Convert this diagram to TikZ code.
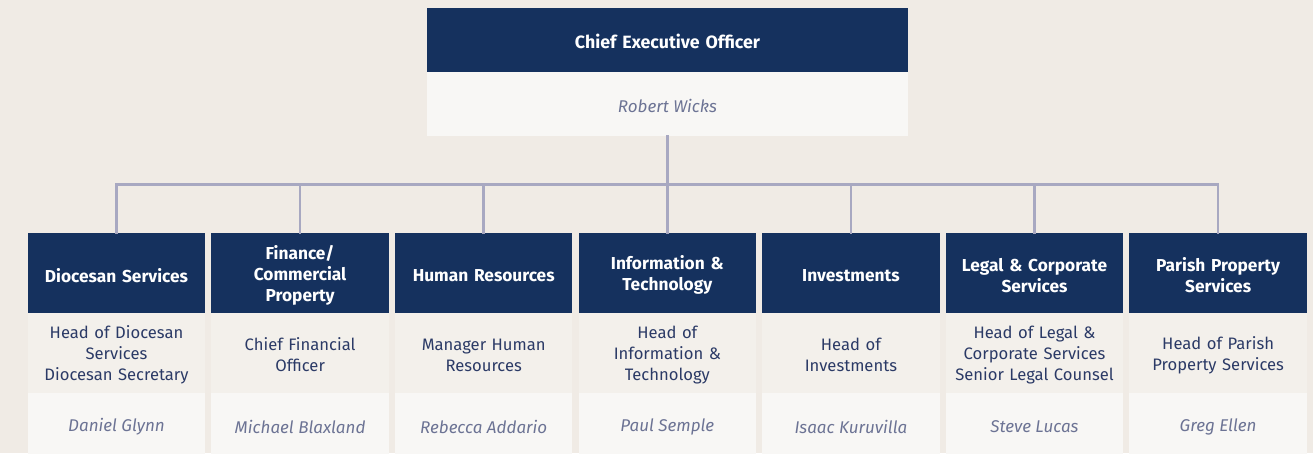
\documentclass[tikz,border=0pt]{standalone}
\usepackage{fontspec}
\setmainfont{Fira Sans}
\definecolor{bgc}{HTML}{F0EBE5}
\definecolor{navy}{HTML}{15315E}
\definecolor{midc}{HTML}{F3F0EB}
\definecolor{lightc}{HTML}{F8F7F5}
\definecolor{linec}{HTML}{A8A8C1}
\definecolor{rolec}{HTML}{2B3A66}
\definecolor{namec}{HTML}{6C7394}
\tikzset{
  hdr/.style={fill=navy, draw=none, minimum width=177.5pt, minimum height=80pt, inner sep=0pt},
  hdrtext/.style={inner sep=0pt, text width=175pt, align=center, text=white, font=\fontsize{17.3}{21}\selectfont\bfseries},
  rolebox/.style={fill=midc, draw=none, minimum width=177.5pt, minimum height=80pt, inner sep=0pt},
  roletext/.style={inner sep=0pt, text width=176pt, align=center, text=rolec, font=\fontsize{16.6}{21}\selectfont},
  namebox/.style={fill=lightc, draw=none, minimum width=177.5pt, minimum height=68pt, inner sep=0pt},
  nametext/.style={inner sep=0pt, text=namec, font=\fontsize{17}{21}\selectfont\itshape},
  conn/.style={draw=linec, line width=2.6pt, line cap=rect, line join=miter}
}
\begin{document}
\begin{tikzpicture}[x=1pt,y=-1pt]
\fill[bgc] (0,0) rectangle (1313,453);
\useasboundingbox (0,0) rectangle (1313,453);
% CEO
\node[hdr, minimum width=481pt, minimum height=64pt] (ceo) at (667.5,40) {};
\node[hdrtext, text width=400pt, font=\fontsize{17.8}{21}\selectfont\bfseries] (ceot) at (667.5,41.5) {Chief Executive Officer};
\node[namebox, minimum width=481pt, minimum height=64pt] (ceoname) at (667.5,104) {};
\node[nametext] (ceon) at (667.5,105.5) {Robert Wicks};
% columns
\foreach \i/\h/\r/\n in {
  1/{Diocesan Services}/{Head of Diocesan\\Services\\Diocesan Secretary}/{Daniel Glynn},
  2/{Finance/\\Commercial\\Property}/{Chief Financial\\Officer}/{Michael Blaxland},
  3/{Human Resources}/{Manager Human\\Resources}/{Rebecca Addario},
  4/{Information \&\\Technology}/{Head of\\Information \&\\Technology}/{Paul Semple},
  5/{Investments}/{Head of\\Investments}/{Isaac Kuruvilla},
  6/{Legal \& Corporate\\Services}/{Head of Legal \&\\Corporate Services\\Senior Legal Counsel}/{Steve Lucas},
  7/{Parish Property\\Services}/{Head of Parish\\Property Services}/{Greg Ellen}}{
  \pgfmathsetmacro{\cx}{116.5+183.6*(\i-1)}
  \node[hdr] (h\i) at (\cx,272.7) {};
  \node[hdrtext] (ht\i) at (\cx,275.2) {\h};
  \node[rolebox] (rb\i) at (\cx,352.7) {};
  \node[roletext] (r\i) at (\cx,355) {\r};
  \node[namebox] (nb\i) at (\cx,426.7) {};
  \node[nametext] (n\i) at (\cx,427) {\n};
}
\coordinate (bus) at (667.5,184.5);
\draw[conn] (ceoname.south) -- (ceoname.south |- bus);
\draw[conn] (h1.north) -- (h1.north |- bus) -- (h7.north |- bus) -- (h7.north);
\foreach \i in {2,...,6}{
  \draw[conn] (h\i.north) -- (h\i.north |- bus);
}
\end{tikzpicture}
\end{document}
